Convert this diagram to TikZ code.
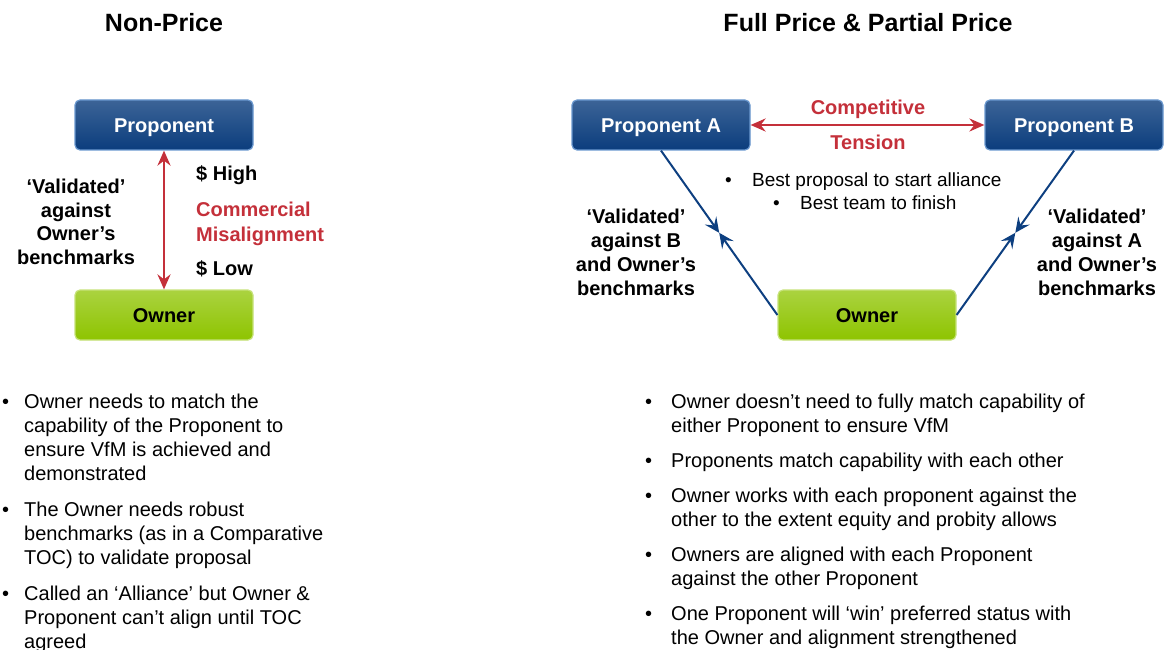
\documentclass[tikz,border=0pt]{standalone}
\usepackage{fontspec}
\setmainfont{Liberation Sans}
\usetikzlibrary{arrows.meta,calc}

\definecolor{propblue}{HTML}{0B3D7D}
\definecolor{propedge}{HTML}{6A98CF}
\definecolor{ownergreen}{HTML}{8EC400}
\definecolor{owneredge}{HTML}{C6E27A}
\definecolor{tensionred}{HTML}{C4303A}
\definecolor{linkblue}{HTML}{0D3F80}

\tikzset{
	probox/.style={draw=propedge, line width=1.2pt, rounded corners=5pt,
		top color=propblue!80!white, middle color=propblue, bottom color=propblue,
		minimum width=178pt, minimum height=50pt, text=white,
		text height=14.5pt, text depth=0pt,
		font=\bfseries\fontsize{20}{24}\selectfont},
	ownbox/.style={draw=owneredge, line width=1.2pt, rounded corners=5pt,
		top color=ownergreen!75!white, middle color=ownergreen, bottom color=ownergreen,
		minimum width=178pt, minimum height=50pt, text=black,
		text height=14.5pt, text depth=0pt,
		font=\bfseries\fontsize{20}{24}\selectfont},
	title/.style={anchor=base, inner sep=0pt, font=\bfseries\fontsize{25}{30}\selectfont},
	boldlbl/.style={inner sep=0pt, font=\bfseries\fontsize{20}{24}\selectfont},
	redlbl/.style={boldlbl, text=tensionred},
	bodytxt/.style={anchor=base west, inner sep=0pt, align=left,
		font=\fontsize{20}{24}\selectfont},
	redarrow/.style={draw=tensionred, line width=2.5pt,
		{Stealth[length=15pt,width=13pt,inset=5pt]}-{Stealth[length=15pt,width=13pt,inset=5pt]}},
	bluearrow/.style={draw=linkblue, line width=2pt,
		-{Stealth[length=15pt,width=14pt,inset=6pt]}}
}

\begin{document}
\begin{tikzpicture}[x=1pt, y=-1pt]
	\useasboundingbox (0,0) rectangle (1168,650);

	% Non-Price
	\node[title] (tnon) at (164,32) {Non-Price};
	\node[probox] (prop) at (164,125) {Proponent};
	\node[ownbox] (own) at (164,315) {Owner};
	\draw[redarrow] (prop) -- (own);
	\node[boldlbl, anchor=base west] (high) at (196,181) {\$ High};
	% multi-line nodes: base = last line
	\node[redlbl, anchor=base west, align=left, font=\bfseries\fontsize{20}{25}\selectfont] (misalign) at (196,241) {Commercial\\Misalignment};
	\node[boldlbl, anchor=base west] (low) at (196,275) {\$ Low};
	\node[boldlbl, align=center, font=\bfseries\fontsize{20}{23.5}\selectfont] (valown) at (76,222) {‘Validated’\\against\\Owner’s\\benchmarks};

	\node[bodytxt] (nbul1) at (2,408) {•};
	\node[bodytxt] (ntxt1) at (24,480) {Owner needs to match the\\capability of the Proponent to\\ensure VfM is achieved and\\demonstrated};
	\node[bodytxt] (nbul2) at (2,516) {•};
	\node[bodytxt] (ntxt2) at (24,564) {The Owner needs robust\\benchmarks (as in a Comparative\\TOC) to validate proposal};
	\node[bodytxt] (nbul3) at (2,600) {•};
	\node[bodytxt] (ntxt3) at (24,648) {Called an ‘Alliance’ but Owner \&\\Proponent can’t align until TOC\\agreed};

	% Full Price & Partial Price
	\node[title] (tfull) at (868,32) {Full Price \& Partial Price};
	\node[probox] (propA) at (661,125) {Proponent A};
	\node[probox] (propB) at (1074,125) {Proponent B};
	\node[ownbox] (ownR) at (867,315) {Owner};
	\draw[redarrow] (propA) -- (propB);
	\node[redlbl, anchor=base] (comp) at (868,115) {Competitive};
	\node[redlbl, anchor=base] (tens) at (868,150) {Tension};

	\node[bodytxt, font=\fontsize{19}{24}\selectfont] (sbul1) at (725,186) {•};
	\node[bodytxt, font=\fontsize{19}{24}\selectfont] (stxt1) at (752,186) {Best proposal to start alliance};
	\node[bodytxt, font=\fontsize{19}{24}\selectfont] (sbul2) at (773,210) {•};
	\node[bodytxt, font=\fontsize{19}{24}\selectfont] (stxt2) at (800,210) {Best team to finish};

	\coordinate (midA) at ($(propA.south)!0.5!(ownR.west)$);
	\coordinate (midB) at ($(propB.south)!0.5!(ownR.east)$);
	\draw[bluearrow] (propA.south) -- (midA);
	\draw[bluearrow] (ownR.west) -- (midA);
	\draw[bluearrow] (propB.south) -- (midB);
	\draw[bluearrow] (ownR.east) -- (midB);

	\node[boldlbl, align=center] (valB) at (636,252) {‘Validated’\\against B\\and Owner’s\\benchmarks};
	\node[boldlbl, align=center] (valA) at (1097,252) {‘Validated’\\against A\\and Owner’s\\benchmarks};

	\node[bodytxt] (fbul1) at (645,408) {•};
	\node[bodytxt] (ftxt1) at (671,432) {Owner doesn’t need to fully match capability of\\either Proponent to ensure VfM};
	\node[bodytxt] (fbul2) at (645,467) {•};
	\node[bodytxt] (ftxt2) at (671,467) {Proponents match capability with each other};
	\node[bodytxt] (fbul3) at (645,502) {•};
	\node[bodytxt] (ftxt3) at (671,526) {Owner works with each proponent against the\\other to the extent equity and probity allows};
	\node[bodytxt] (fbul4) at (645,561) {•};
	\node[bodytxt] (ftxt4) at (671,585) {Owners are aligned with each Proponent\\against the other Proponent};
	\node[bodytxt] (fbul5) at (645,620) {•};
	\node[bodytxt] (ftxt5) at (671,644) {One Proponent will ‘win’ preferred status with\\the Owner and alignment strengthened};
\end{tikzpicture}
\end{document}
